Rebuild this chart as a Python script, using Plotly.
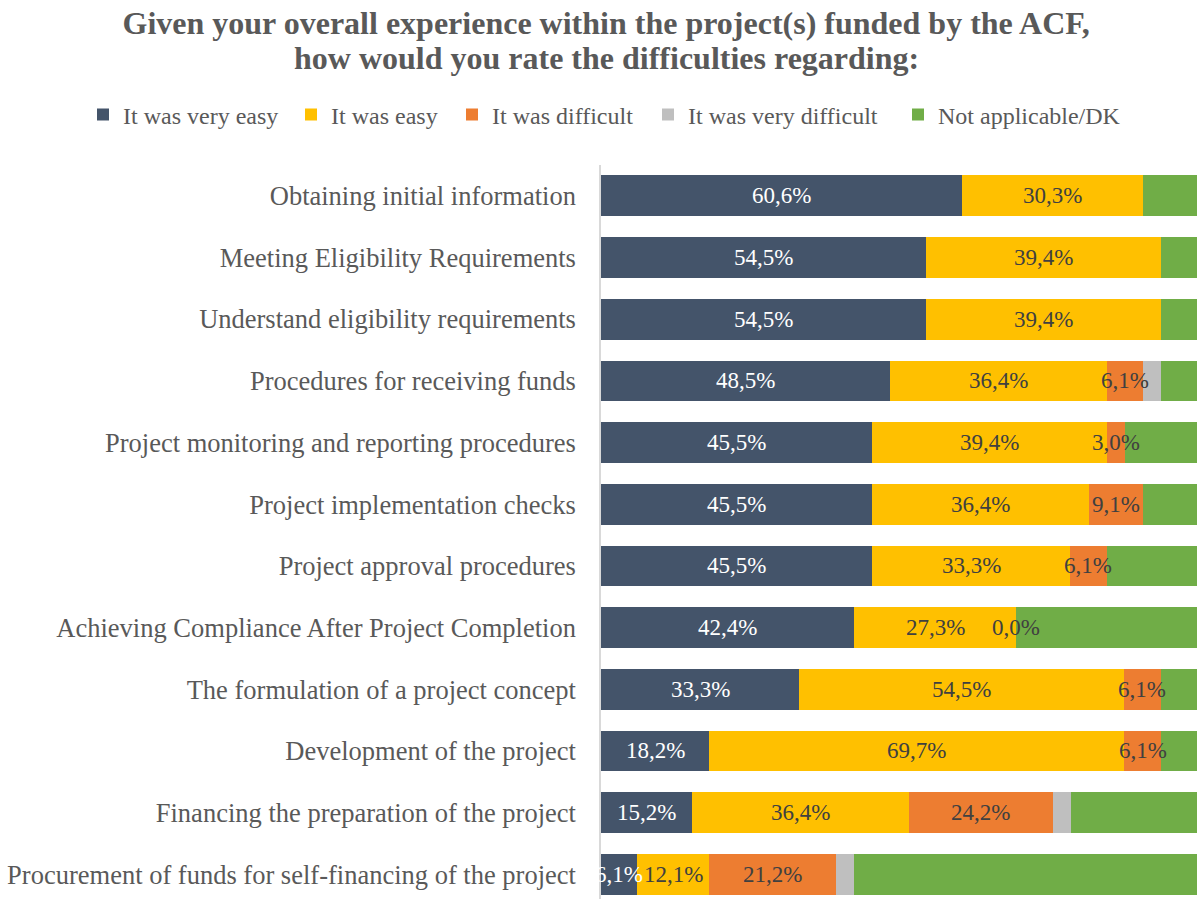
import plotly.graph_objects as go

# Survey items, top to bottom
categories = [
    "Obtaining initial information",
    "Meeting Eligibility Requirements",
    "Understand eligibility requirements",
    "Procedures for receiving funds",
    "Project monitoring and reporting procedures",
    "Project implementation checks",
    "Project approval procedures",
    "Achieving Compliance After Project Completion",
    "The formulation of a project concept",
    "Development of the project",
    "Financing the preparation of the project",
    "Procurement of funds for self-financing of the project",
]

series_names = [
    "It was very easy",
    "It was easy",
    "It was difficult",
    "It was very difficult",
    "Not applicable/DK",
]

# Shares of respondents (%), None = no answer in that group
very_easy = [60.6, 54.5, 54.5, 48.5, 45.5, 45.5, 45.5, 42.4, 33.3, 18.2, 15.2, 6.1]
easy = [30.3, 39.4, 39.4, 36.4, 39.4, 36.4, 33.3, 27.3, 54.5, 69.7, 36.4, 12.1]
difficult = [None, None, None, 6.1, 3.0, 9.1, 6.1, 0.0, 6.1, 6.1, 24.2, 21.2]
very_difficult = [None, None, None, 3.0, None, None, None, None, None, None, 3.0, 3.0]
not_applicable = [9.1, 6.1, 6.1, 6.1, 12.1, 9.1, 15.2, 30.3, 6.1, 6.1, 21.2, 57.6]

series_values = [very_easy, easy, difficult, very_difficult, not_applicable]
colors = ["#44546A", "#FFC000", "#ED7D31", "#BFBFBF", "#70AD47"]
label_colors = ["#FFFFFF", "#404040", "#404040", None, None]

FONT = "Liberation Serif, Times New Roman, serif"
W, H = 1198, 899
PLOT_LEFT, PLOT_TOP = 601, 165
PLOT_W, PLOT_H = W - PLOT_LEFT - 1, H - PLOT_TOP

fig = go.Figure()

legend_ids = ["legend", "legend2", "legend3", "legend4", "legend5"]
for name, vals, col, lid in zip(series_names, series_values, colors, legend_ids):
    fig.add_trace(go.Bar(
        y=categories,
        x=[v if v is not None else 0 for v in vals],
        name=name,
        orientation="h",
        marker=dict(color=col, line=dict(width=0)),
        legend=lid,
        hoverinfo="name+x",
    ))

# Value labels placed at the centre of each segment (normalised per row)
annotations = []
for i, cat in enumerate(categories):
    row = [s[i] if s[i] is not None else 0 for s in series_values]
    total = sum(row)
    start = 0.0
    for k, vals in enumerate(series_values):
        v = vals[i]
        share = (v if v is not None else 0) * 100.0 / total
        if label_colors[k] is not None and v is not None:
            annotations.append(dict(
                x=start + share / 2, y=cat, xref="x", yref="y",
                text=f"{v:.1f}%".replace(".", ","),
                showarrow=False,
                font=dict(family=FONT, size=23, color=label_colors[k]),
            ))
        start += share

# Second title line
annotations.append(dict(
    text="<b>how would you rate the difficulties regarding:</b>",
    x=(606 - PLOT_LEFT) / PLOT_W, xref="paper", xanchor="center",
    y=(H - 58) / PLOT_H, yref="paper", yanchor="middle",
    showarrow=False,
    font=dict(family=FONT, size=32, color="#595959"),
))

# One legend per series so each entry sits at its own horizontal position
legend_px = [83, 291, 452, 648, 898]
layout_legends = {}
for lid, px in zip(legend_ids, legend_px):
    layout_legends[lid] = dict(
        x=(px - PLOT_LEFT) / PLOT_W, xanchor="left",
        y=1 - 115 / H, yref="container", yanchor="middle",
        orientation="h",
        font=dict(family=FONT, size=24, color="#595959"),
        bgcolor="rgba(0,0,0,0)",
        itemwidth=30,
        tracegroupgap=0,
    )

fig.update_layout(
    width=W, height=H,
    margin=dict(l=PLOT_LEFT, r=1, t=PLOT_TOP, b=0),
    barmode="stack",
    barnorm="percent",
    bargap=0.34,
    plot_bgcolor="white",
    paper_bgcolor="white",
    title=dict(
        text="<b>Given your overall experience within the project(s) funded by the ACF,</b>",
        x=0.506, xanchor="center", y=1 - 23 / H, yanchor="middle",
        font=dict(family=FONT, size=32, color="#595959"),
    ),
    xaxis=dict(range=[0, 100], visible=False, fixedrange=True),
    yaxis=dict(
        categoryorder="array", categoryarray=categories,
        range=[11.4, -0.5],
        showline=True, linecolor="#D9D9D9", linewidth=1.5,
        showgrid=False, zeroline=False,
        ticks="", ticklabelstandoff=18,
        tickfont=dict(family=FONT, size=26.5, color="#595959"),
    ),
    annotations=annotations,
    showlegend=True,
    **layout_legends,
)

fig.write_html("out.html")
